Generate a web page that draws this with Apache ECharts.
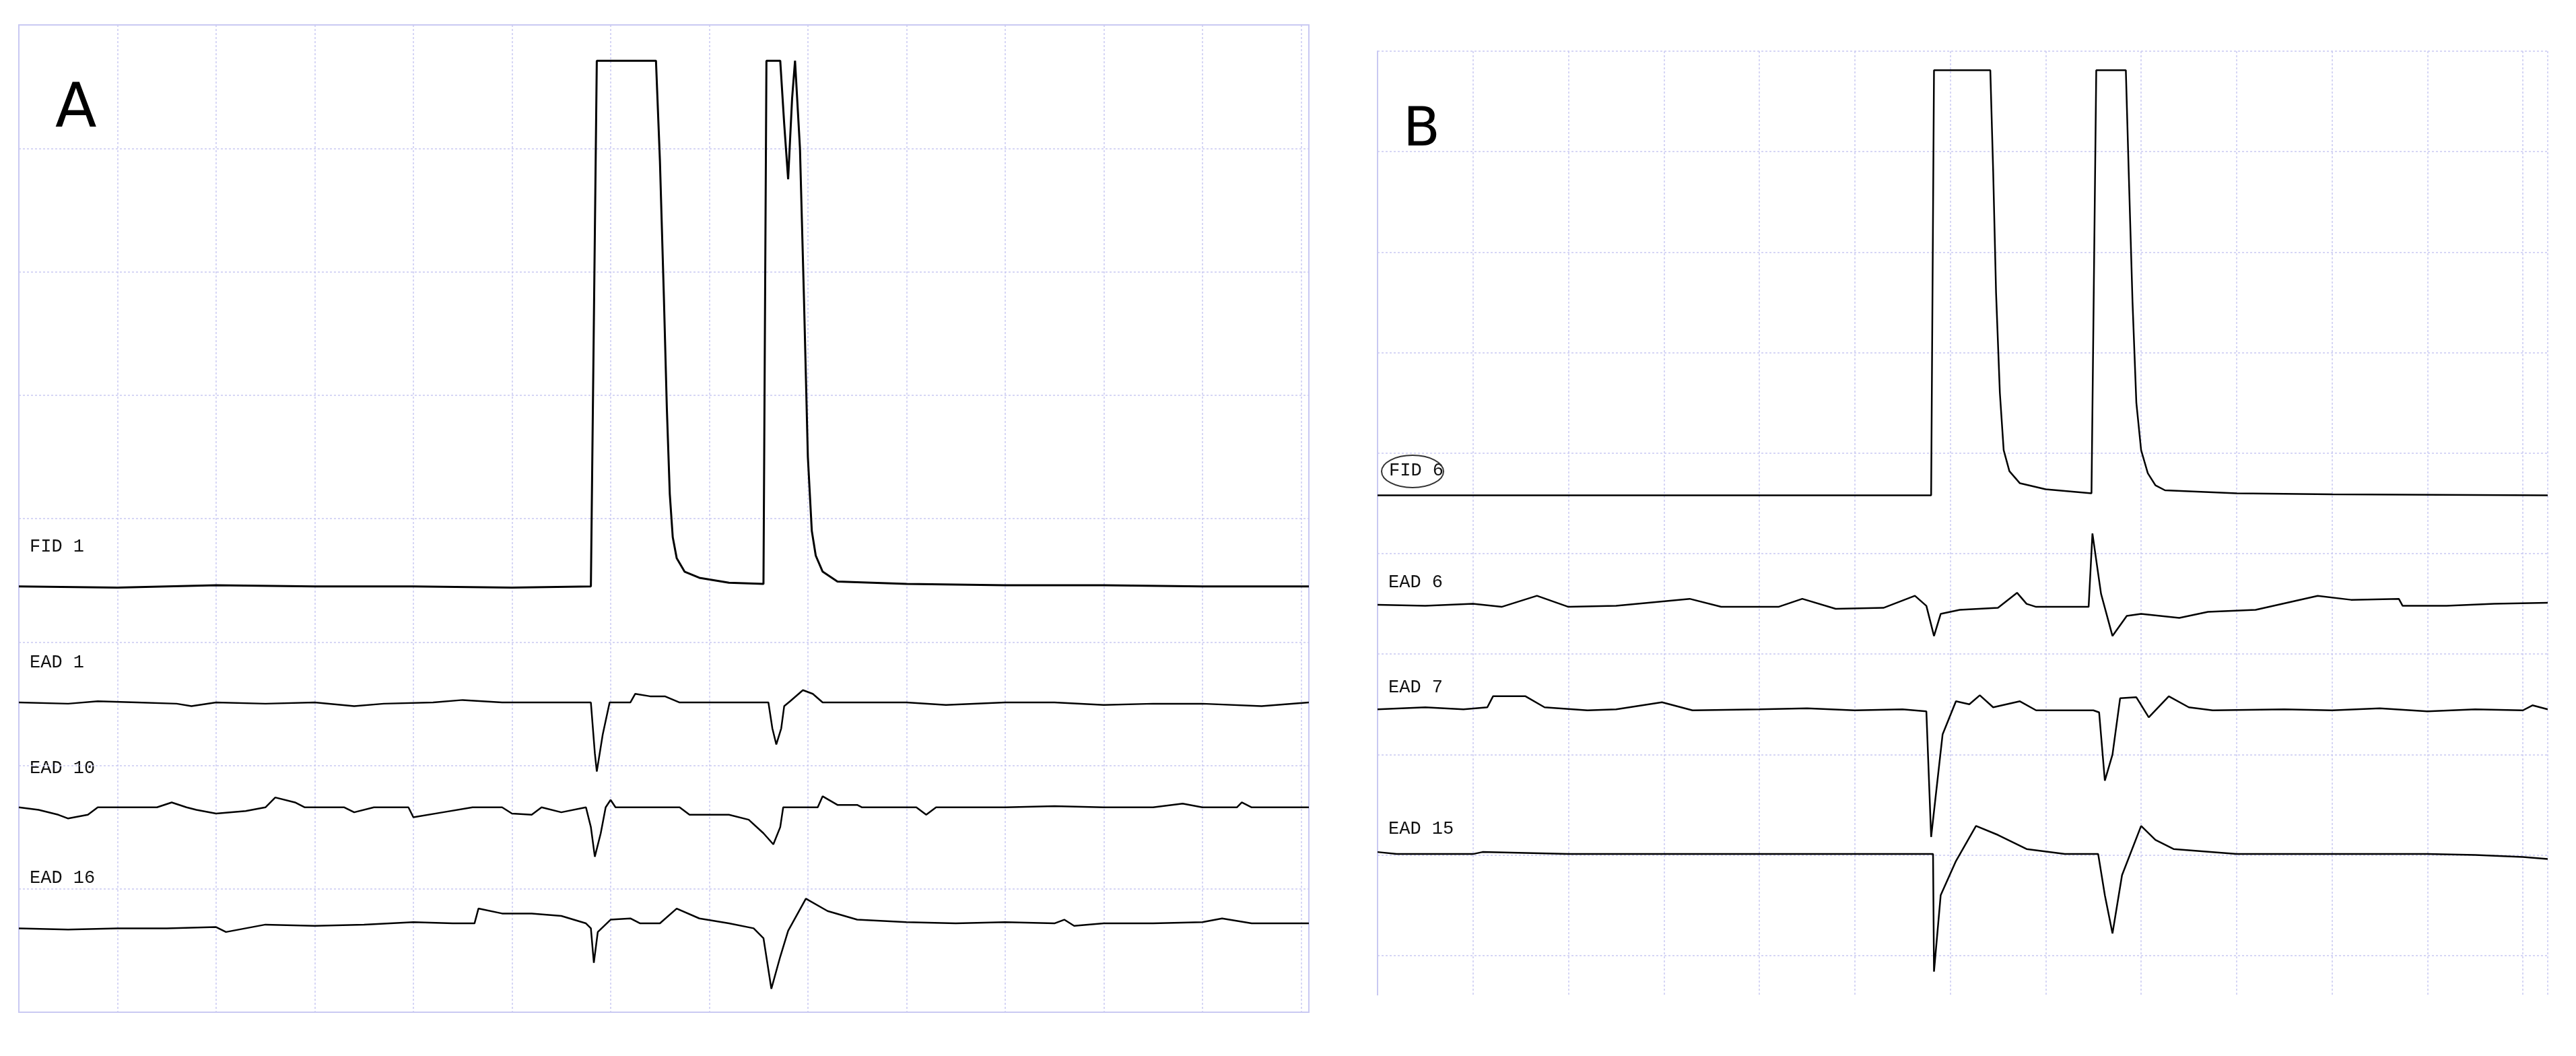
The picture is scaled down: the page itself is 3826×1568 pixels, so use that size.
<!DOCTYPE html>
<html>
<head>
<meta charset="utf-8">
<script src="https://cdn.jsdelivr.net/npm/echarts@6/dist/echarts.min.js"></script>
<style>html,body{margin:0;padding:0;background:#fff}#main{width:3826px;height:1568px}</style>
</head>
<body>
<div id="main"></div>
<script>
// panel A traces, [time, signal] in grid units
var fidA = [[0,3.45],[1,3.44],[2,3.46],[3,3.45],[4,3.45],[5,3.44],[5.80,3.45],[5.86,7.71],[6.46,7.71],[6.50,6.9],[6.54,5.8],[6.57,4.9],[6.60,4.2],[6.63,3.85],[6.67,3.68],[6.75,3.57],[6.9,3.52],[7.2,3.48],[7.55,3.47],[7.58,7.71],[7.72,7.71],[7.76,7.2],[7.80,6.75],[7.84,7.4],[7.87,7.71],[7.92,7.0],[7.96,5.8],[8.0,4.5],[8.04,3.9],[8.08,3.7],[8.15,3.57],[8.3,3.49],[9,3.47],[10,3.46],[11,3.46],[12,3.45],[13.08,3.45]];
var eadA1 = [[0,2.51],[0.5,2.50],[0.8,2.52],[1.2,2.51],[1.6,2.5],[1.75,2.48],[2.0,2.51],[2.5,2.50],[3.0,2.51],[3.4,2.48],[3.7,2.5],[4.2,2.51],[4.5,2.53],[4.9,2.51],[5.4,2.51],[5.8,2.51],[5.84,2.1],[5.86,1.95],[5.92,2.25],[5.99,2.51],[6.2,2.51],[6.25,2.58],[6.4,2.56],[6.55,2.56],[6.7,2.51],[7.1,2.51],[7.6,2.51],[7.64,2.3],[7.68,2.17],[7.73,2.3],[7.76,2.48],[7.82,2.52],[7.95,2.61],[8.05,2.58],[8.15,2.51],[9,2.51],[9.4,2.49],[10,2.51],[10.5,2.51],[11,2.49],[11.5,2.5],[12,2.50],[12.6,2.48],[13.08,2.51]];
var eadA10 = [[0,1.66],[0.2,1.64],[0.4,1.60],[0.5,1.57],[0.7,1.60],[0.8,1.66],[1.4,1.66],[1.55,1.70],[1.7,1.66],[1.8,1.64],[2.0,1.61],[2.3,1.63],[2.5,1.66],[2.6,1.74],[2.8,1.70],[2.9,1.66],[3.3,1.66],[3.4,1.62],[3.6,1.66],[3.95,1.66],[4.0,1.58],[4.3,1.62],[4.6,1.66],[4.9,1.66],[5.0,1.61],[5.2,1.6],[5.3,1.66],[5.5,1.62],[5.75,1.66],[5.80,1.5],[5.84,1.26],[5.9,1.45],[5.95,1.66],[6.0,1.72],[6.05,1.66],[6.7,1.66],[6.8,1.6],[7.2,1.6],[7.4,1.56],[7.55,1.45],[7.65,1.36],[7.72,1.5],[7.75,1.66],[8.1,1.66],[8.15,1.75],[8.3,1.68],[8.5,1.68],[8.55,1.66],[9.1,1.66],[9.2,1.6],[9.3,1.66],[9.8,1.66],[10.0,1.66],[10.5,1.67],[11.0,1.66],[11.5,1.66],[11.8,1.69],[12.0,1.66],[12.35,1.66],[12.4,1.70],[12.5,1.66],[13.08,1.66]];
var eadA16 = [[0,0.68],[0.5,0.67],[1,0.68],[1.5,0.68],[2.0,0.69],[2.1,0.65],[2.3,0.68],[2.5,0.71],[3.0,0.7],[3.5,0.71],[4.0,0.73],[4.4,0.72],[4.62,0.72],[4.66,0.84],[4.9,0.80],[5.2,0.80],[5.5,0.78],[5.75,0.72],[5.80,0.68],[5.83,0.40],[5.87,0.65],[6.0,0.75],[6.2,0.76],[6.3,0.72],[6.5,0.72],[6.67,0.84],[6.9,0.76],[7.2,0.72],[7.45,0.68],[7.55,0.6],[7.63,0.19],[7.72,0.45],[7.80,0.66],[7.98,0.92],[8.2,0.82],[8.5,0.75],[9,0.73],[9.5,0.72],[10,0.73],[10.5,0.72],[10.6,0.75],[10.7,0.70],[11,0.72],[11.5,0.72],[12,0.73],[12.2,0.76],[12.5,0.72],[13.08,0.72]];

// panel B traces
var fidB = [[0,4.58],[2,4.58],[4,4.58],[5.8,4.58],[5.83,8.81],[6.42,8.81],[6.45,7.8],[6.48,6.6],[6.52,5.6],[6.56,5.03],[6.62,4.82],[6.73,4.70],[7.0,4.64],[7.48,4.60],[7.53,8.81],[7.84,8.81],[7.87,7.8],[7.91,6.5],[7.95,5.5],[8.0,5.03],[8.07,4.8],[8.15,4.68],[8.25,4.63],[9,4.6],[10,4.59],[12.26,4.58]];
var eadB6 = [[0,3.49],[0.5,3.48],[1.0,3.50],[1.3,3.47],[1.67,3.58],[2.0,3.47],[2.5,3.48],[3.27,3.55],[3.6,3.47],[4.2,3.47],[4.45,3.55],[4.8,3.45],[5.3,3.46],[5.63,3.58],[5.75,3.48],[5.83,3.18],[5.9,3.40],[6.1,3.44],[6.5,3.46],[6.7,3.61],[6.8,3.50],[6.9,3.47],[7.45,3.47],[7.49,4.20],[7.58,3.6],[7.70,3.18],[7.85,3.38],[8.0,3.40],[8.4,3.36],[8.7,3.42],[9.2,3.44],[9.85,3.58],[10.2,3.54],[10.70,3.55],[10.74,3.48],[11.2,3.48],[11.7,3.50],[12.26,3.51]];
var eadB7 = [[0,2.45],[0.5,2.47],[0.9,2.45],[1.15,2.47],[1.21,2.58],[1.55,2.58],[1.75,2.47],[2.2,2.44],[2.5,2.45],[2.98,2.52],[3.3,2.44],[4,2.45],[4.5,2.46],[5.0,2.44],[5.5,2.45],[5.75,2.43],[5.80,1.18],[5.92,2.2],[6.06,2.53],[6.2,2.5],[6.31,2.59],[6.45,2.47],[6.73,2.53],[6.9,2.44],[7.5,2.44],[7.56,2.42],[7.62,1.74],[7.70,2.0],[7.78,2.56],[7.95,2.57],[8.08,2.37],[8.29,2.58],[8.5,2.47],[8.75,2.44],[9.5,2.45],[10,2.44],[10.5,2.46],[11,2.43],[11.5,2.45],[12.0,2.44],[12.1,2.49],[12.26,2.45]];
var eadB15 = [[0,1.03],[0.2,1.01],[1,1.01],[1.1,1.03],[2,1.01],[3,1.01],[4,1.01],[5,1.01],[5.82,1.01],[5.83,-0.16],[5.9,0.6],[6.06,0.94],[6.27,1.29],[6.5,1.2],[6.8,1.06],[7.2,1.01],[7.55,1.01],[7.62,0.6],[7.70,0.22],[7.80,0.8],[8.0,1.29],[8.15,1.15],[8.34,1.06],[9,1.01],[10,1.01],[11,1.01],[11.5,1.0],[12,0.98],[12.26,0.96]];

var gridColor = '#c9c9f2';
var chart = echarts.init(document.getElementById('main'));

function xAx(idx, max) {
  return {
    type: 'value', gridIndex: idx, min: 0, max: max, interval: 1,
    axisLine: {show: false}, axisTick: {show: false}, axisLabel: {show: false},
    splitLine: {show: true, lineStyle: {color: gridColor, type: [3, 3], width: 1.5}}
  };
}
function yAx(idx, min, max, showLine) {
  return {
    type: 'value', gridIndex: idx, min: min, max: max, interval: 1,
    axisLine: {show: showLine, lineStyle: {color: gridColor, width: 2}},
    axisTick: {show: false}, axisLabel: {show: false},
    splitLine: {show: true, lineStyle: {color: gridColor, type: [3, 3], width: 1.5}}
  };
}
function trace(data, idx, w) {
  return {type: 'line', xAxisIndex: idx, yAxisIndex: idx, data: data, symbol: 'none',
    lineStyle: {color: '#000', width: w}, animation: false, clip: false};
}
function lab(text, x, y) {
  return {type: 'text', left: x, top: y,
    style: {text: text, font: '27px "Liberation Mono"', fill: '#111'}};
}

var option = {
  backgroundColor: '#fff',
  grid: [
    {left: 28, top: 37, width: 1916, height: 1466, show: true, borderColor: gridColor, borderWidth: 2},
    {left: 2046, top: 76, width: 1738, height: 1520}
  ],
  xAxis: [xAx(0, 13.08), xAx(1, 12.26)],
  yAxis: [yAx(0, 0, 8, false), yAx(1, -1, 9, true)],
  series: [
    trace(fidA, 0, 3), trace(eadA1, 0, 2.5), trace(eadA10, 0, 2.5), trace(eadA16, 0, 2.5),
    trace(fidB, 1, 2.5), trace(eadB6, 1, 2.5), trace(eadB7, 1, 2.5), trace(eadB15, 1, 2.5)
  ],
  graphic: [
    // blank out panel B below its last visible row
    {type: 'rect', left: 2030, top: 1478, shape: {width: 1796, height: 90}, style: {fill: '#fff'}, z: 100},
    {type: 'text', left: 82, top: 120, style: {text: 'A', font: '90px "DejaVu Sans"', fill: '#000'}},
    {type: 'text', left: 2084, top: 155, style: {text: 'B', font: '80px "DejaVu Sans"', fill: '#000'}},
    lab('FID 1', 44, 798), lab('EAD 1', 44, 970), lab('EAD 10', 44, 1127), lab('EAD 16', 44, 1290),
    lab('FID 6', 2063, 685), lab('EAD 6', 2062, 851), lab('EAD 7', 2062, 1007), lab('EAD 15', 2062, 1217),
    {type: 'ellipse', shape: {cx: 2098, cy: 700, rx: 46, ry: 24}, style: {fill: 'none', stroke: '#333', lineWidth: 2}}
  ]
};
chart.setOption(option);
window.addEventListener('resize', function () { chart.resize(); });
</script>
</body>
</html>
